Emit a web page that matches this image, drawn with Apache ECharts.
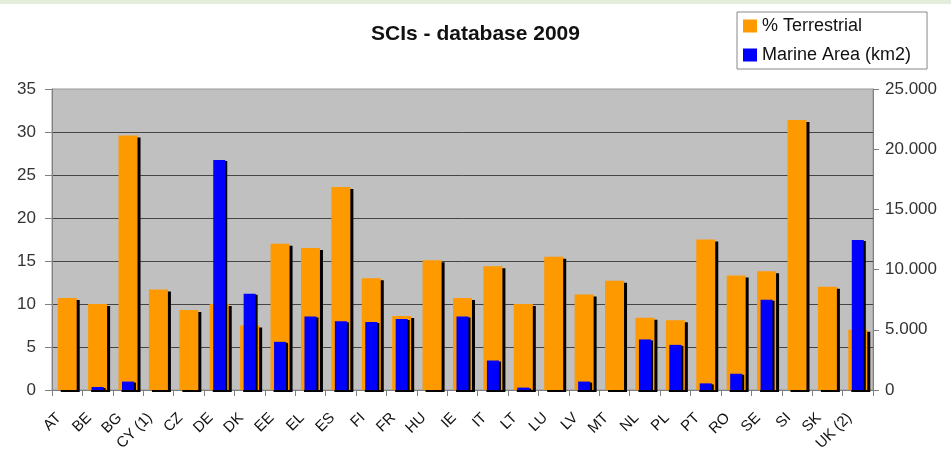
<!DOCTYPE html>
<html><head><meta charset="utf-8">
<script src="https://cdn.jsdelivr.net/npm/echarts@6/dist/echarts.min.js"></script>
<style>html,body{margin:0;padding:0;background:#fff}#c{width:951px;height:458px}</style>
</head><body><div id="c"></div>
<script>
const categories = ['AT','BE','BG','CY (1)','CZ','DE','DK','EE','EL','ES','FI','FR','HU','IE','IT','LT','LU','LV','MT','NL','PL','PT','RO','SE','SI','SK','UK (2)'];
const terrestrial = [10.7,10.0,29.6,11.7,9.3,10.0,7.5,17.0,16.5,23.6,13.0,8.6,15.1,10.7,14.4,10.0,15.5,11.1,12.7,8.4,8.1,17.5,13.3,13.8,31.4,12.0,7.0];
const marine = [0,250,700,0,0,19100,8000,4000,6100,5700,5650,5900,0,6100,2450,200,0,700,0,4200,3750,550,1350,7500,0,0,12450];
const leftTicks = {min:0, max:35, step:5};
const rightTicks = {min:0, max:25000, step:5000};

const FONT = "'Liberation Sans', Arial, sans-serif";
const chart = echarts.init(document.getElementById('c'), null, {renderer:'canvas'});
chart.setOption({
  backgroundColor:'#ffffff',
  animation:false,
  graphic:[{type:'rect', shape:{x:0,y:0,width:951,height:4}, style:{fill:'#e4eddc'}, silent:true}],
  title:{text:'SCIs - database 2009', left:'center', top:19,
    textStyle:{fontFamily:FONT, fontSize:21, fontWeight:'bold', color:'#111'}},
  legend:{orient:'vertical', left:737, top:12, padding:[5,16,5,6], itemGap:11,
    itemWidth:14, itemHeight:13, icon:'rect',
    backgroundColor:'#fff', borderColor:'#888', borderWidth:1, borderRadius:0,
    textStyle:{fontFamily:FONT, fontSize:18, color:'#111'},
    data:['% Terrestrial','Marine Area (km2)']},
  grid:{left:52, right:78, top:89, bottom:68, show:true, backgroundColor:'#c0c0c0', borderColor:'#999', borderWidth:1},
  xAxis:[
    {type:'category', data:categories, boundaryGap:true,
     axisLine:{show:true, lineStyle:{color:'#808080', width:1}},
     axisTick:{show:true, interval:0, length:6, lineStyle:{color:'#808080'}},
     axisLabel:{interval:0, rotate:45, margin:17, padding:[0,12,0,0], fontFamily:FONT, fontSize:15, color:'#111'},
     splitLine:{show:false}},
    {type:'category', data:categories, show:false, boundaryGap:true}
  ],
  yAxis:[
    {type:'value', position:'left', min:leftTicks.min, max:leftTicks.max, interval:leftTicks.step,
     axisLine:{show:true, lineStyle:{color:'#808080'}},
     axisTick:{show:true, length:7, lineStyle:{color:'#808080'}},
     axisLabel:{fontFamily:FONT, fontSize:17, color:'#333', margin:16},
     splitLine:{show:true, showMaxLine:false, lineStyle:{color:'#454545', width:1}}},
    {type:'value', position:'right', min:rightTicks.min, max:rightTicks.max, interval:rightTicks.step,
     axisLine:{show:true, lineStyle:{color:'#808080'}},
     axisTick:{show:true, length:6, lineStyle:{color:'#808080'}},
     axisLabel:{fontFamily:FONT, fontSize:17, color:'#333', margin:12,
       formatter:v => v === 0 ? '0' : (v/1000).toFixed(3)},
     splitLine:{show:false}}
  ],
  series:[
    {name:'% Terrestrial', type:'bar', xAxisIndex:0, yAxisIndex:0, data:terrestrial, barWidth:19,
     itemStyle:{color:'#ff9900', borderWidth:0,
       shadowColor:'#000', shadowBlur:0, shadowOffsetX:3, shadowOffsetY:2}},
    {name:'Marine Area (km2)', type:'bar', xAxisIndex:1, yAxisIndex:1,
     data:marine.map(v => v === 0 ? '-' : v), barWidth:12,
     itemStyle:{color:'#0000ff', borderWidth:0,
       shadowColor:'#000', shadowBlur:0, shadowOffsetX:2, shadowOffsetY:1}}
  ]
});
</script></body></html>
